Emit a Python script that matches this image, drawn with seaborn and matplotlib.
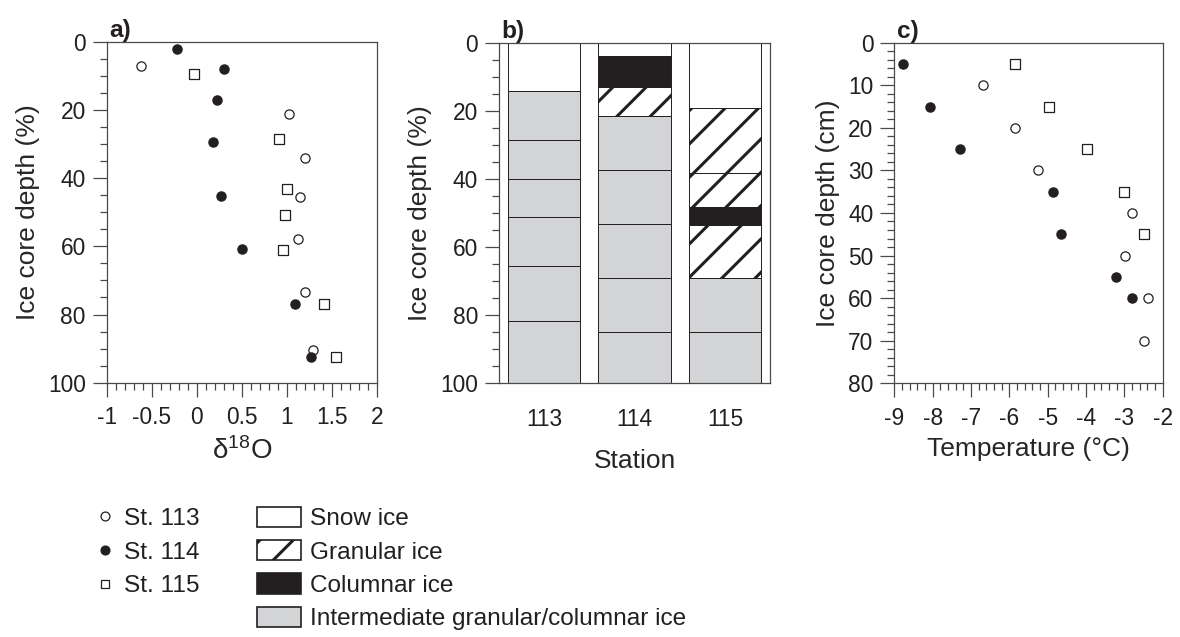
import seaborn as sns
import matplotlib.pyplot as plt
from matplotlib.lines import Line2D
from matplotlib.patches import Patch
from matplotlib.ticker import MultipleLocator

# a) delta 18O profiles (depth as % of core length)
st113_d18o = [-0.62, 1.02, 1.20, 1.14, 1.12, 1.20, 1.29]
st113_depth_pct = [7.0, 21.3, 34.1, 45.4, 58.0, 73.4, 90.5]
st114_d18o = [-0.22, 0.30, 0.22, 0.18, 0.27, 0.50, 1.09, 1.27]
st114_depth_pct = [2.0, 8.1, 17.0, 29.3, 45.3, 60.9, 76.9, 92.4]
st115_d18o = [-0.03, 0.91, 1.00, 0.98, 0.95, 1.41, 1.54]
st115_depth_pct = [9.6, 28.6, 43.1, 50.8, 61.2, 76.9, 92.4]

# b) ice texture layers per station
stations = ['113', '114', '115']
layer_station = ['113'] * 7 + ['114'] * 8 + ['115'] * 7
layer_top = [0, 14.3, 28.7, 39.9, 51.1, 65.5, 81.8,
             0, 4.0, 13.0, 21.4, 37.4, 53.2, 69.0, 84.9,
             0, 19.2, 38.4, 48.3, 53.4, 69.2, 84.9]
layer_bottom = [14.3, 28.7, 39.9, 51.1, 65.5, 81.8, 100,
                4.0, 13.0, 21.4, 37.4, 53.2, 69.0, 84.9, 100,
                19.2, 38.4, 48.3, 53.4, 69.2, 84.9, 100]
layer_type = ['snow'] + ['inter'] * 6 + \
             ['snow', 'columnar', 'granular'] + ['inter'] * 5 + \
             ['snow', 'granular', 'granular', 'columnar', 'granular', 'inter', 'inter']

# c) temperature profiles
st113_temp = [-6.68, -5.85, -5.26, -2.80, -2.98, -2.39, -2.49]
st113_depth_cm = [10, 20, 30, 40, 50, 60, 70]
st114_temp = [-8.78, -8.08, -7.29, -4.85, -4.65, -3.22, -2.80]
st114_depth_cm = [5, 15, 25, 35, 45, 55, 60]
st115_temp = [-5.85, -4.96, -3.97, -3.00, -2.50]
st115_depth_cm = [5, 15, 25, 35, 45]

ink = '#231f20'
spine_col = '#4a4a4a'
grey_fill = '#d3d4d6'
type_style = {
    'snow': dict(facecolor='white', hatch=None, label='Snow ice'),
    'granular': dict(facecolor='white', hatch='//', label='Granular ice'),
    'columnar': dict(facecolor=ink, hatch=None, label='Columnar ice'),
    'inter': dict(facecolor=grey_fill, hatch=None, label='Intermediate granular/columnar ice'),
}

sns.set_style('ticks')
plt.rcParams['font.family'] = ['Liberation Sans', 'DejaVu Sans']
plt.rcParams['mathtext.fontset'] = 'custom'
plt.rcParams['mathtext.rm'] = 'Liberation Sans'
plt.rcParams['mathtext.it'] = 'Liberation Sans'
plt.rcParams['hatch.linewidth'] = 1.1
plt.rcParams['text.color'] = ink

fig = plt.figure(figsize=(5.9, 3.185), dpi=200)
ax_a = fig.add_axes([0.0904, 0.3992, 0.2293, 0.5353])
ax_b = fig.add_axes([0.4229, 0.3983, 0.2297, 0.5347])
ax_c = fig.add_axes([0.7579, 0.3983, 0.2275, 0.5347])

TICK_FS = 8.2
LABEL_FS = 9.5


def style_axes(ax, tag):
    for sp in ax.spines.values():
        sp.set_color(spine_col)
        sp.set_linewidth(0.45)
    ax.tick_params(which='major', direction='out', length=5, width=0.45,
                   color=spine_col, labelsize=TICK_FS, labelcolor=ink, pad=2.5)
    ax.tick_params(which='minor', direction='out', length=2.5, width=0.45, color=spine_col)
    ax.tick_params(axis='x', which='major', pad=3.5)
    ax.text(0.01, 1.0, tag, transform=ax.transAxes, fontsize=8.8,
            fontweight='bold', ha='left', va='bottom')


def scatter_stations(ax, series):
    for x, y, marker, face in series:
        sns.scatterplot(x=x, y=y, ax=ax, marker=marker, s=11, color=face,
                        edgecolor=ink, linewidth=0.45, zorder=3, legend=False)


# panel a
scatter_stations(ax_a, [
    (st113_d18o, st113_depth_pct, 'o', 'white'),
    (st114_d18o, st114_depth_pct, 'o', ink),
    (st115_d18o, st115_depth_pct, 's', 'white'),
])
ax_a.set_xlim(-1, 2)
ax_a.set_ylim(100, 0)
ax_a.xaxis.set_major_locator(MultipleLocator(0.5))
ax_a.xaxis.set_minor_locator(MultipleLocator(0.1))
ax_a.yaxis.set_major_locator(MultipleLocator(20))
ax_a.yaxis.set_minor_locator(MultipleLocator(5))
ax_a.xaxis.set_major_formatter(plt.FuncFormatter(lambda v, p: f'{v:g}'))
ax_a.set_xlabel(r'δ$^{18}$O', fontsize=LABEL_FS + 0.5, labelpad=3)
ax_a.set_ylabel('Ice core depth (%)', fontsize=LABEL_FS, labelpad=3)
style_axes(ax_a, 'a)')

# panel b
xpos = {s: i for i, s in enumerate(stations)}
for st, top, bot, kind in zip(layer_station, layer_top, layer_bottom, layer_type):
    sty = type_style[kind]
    ax_b.bar(xpos[st], bot - top, bottom=top, width=0.8, facecolor=sty['facecolor'],
             hatch=sty['hatch'], edgecolor=ink, linewidth=0.35, zorder=2)
ax_b.set_xlim(-0.5, 2.5)
ax_b.set_ylim(100, 0)
ax_b.set_xticks(range(len(stations)))
ax_b.set_xticklabels(stations)
ax_b.yaxis.set_major_locator(MultipleLocator(20))
ax_b.yaxis.set_minor_locator(MultipleLocator(5))
ax_b.set_xlabel('Station', fontsize=LABEL_FS, labelpad=6.5)
ax_b.set_ylabel('Ice core depth (%)', fontsize=LABEL_FS, labelpad=3)
style_axes(ax_b, 'b)')
ax_b.tick_params(axis='x', which='both', length=0, pad=9)

# panel c
scatter_stations(ax_c, [
    (st113_temp, st113_depth_cm, 'o', 'white'),
    (st114_temp, st114_depth_cm, 'o', ink),
    (st115_temp, st115_depth_cm, 's', 'white'),
])
ax_c.set_xlim(-9, -2)
ax_c.set_ylim(80, 0)
ax_c.xaxis.set_major_locator(MultipleLocator(1))
ax_c.xaxis.set_minor_locator(MultipleLocator(0.2))
ax_c.yaxis.set_major_locator(MultipleLocator(10))
ax_c.yaxis.set_minor_locator(MultipleLocator(2))
ax_c.xaxis.set_major_formatter(plt.FuncFormatter(lambda v, p: f'{v:g}'))
ax_c.set_xlabel('Temperature (°C)', fontsize=LABEL_FS, labelpad=2.5)
ax_c.set_ylabel('Ice core depth (cm)', fontsize=LABEL_FS, labelpad=3)
style_axes(ax_c, 'c)')

# legends
marker_handles = [
    Line2D([], [], ls='none', marker='o', ms=3.2, mfc='white', mec=ink, mew=0.45),
    Line2D([], [], ls='none', marker='o', ms=3.2, mfc=ink, mec=ink, mew=0.45),
    Line2D([], [], ls='none', marker='s', ms=3.2, mfc='white', mec=ink, mew=0.45),
]
fig.legend(marker_handles, ['St. 113', 'St. 114', 'St. 115'], loc='upper left',
           bbox_to_anchor=(0.0786, 0.2030), frameon=False, fontsize=8.8,
           borderpad=0, borderaxespad=0, handlelength=1.0, handletextpad=0.28,
           labelspacing=0.48)

patch_keys = ['snow', 'granular', 'columnar', 'inter']
patch_handles = [Patch(facecolor=type_style[k]['facecolor'], hatch=type_style[k]['hatch'],
                       edgecolor=ink, linewidth=0.6)
                 for k in patch_keys]
fig.legend(patch_handles, [type_style[k]['label'] for k in patch_keys],
           loc='upper left', bbox_to_anchor=(0.2175, 0.2046), frameon=False, fontsize=8.8,
           borderpad=0, borderaxespad=0, handlelength=1.8, handleheight=0.9,
           handletextpad=0.37, labelspacing=0.40)

fig.savefig('out.png', dpi=200)
